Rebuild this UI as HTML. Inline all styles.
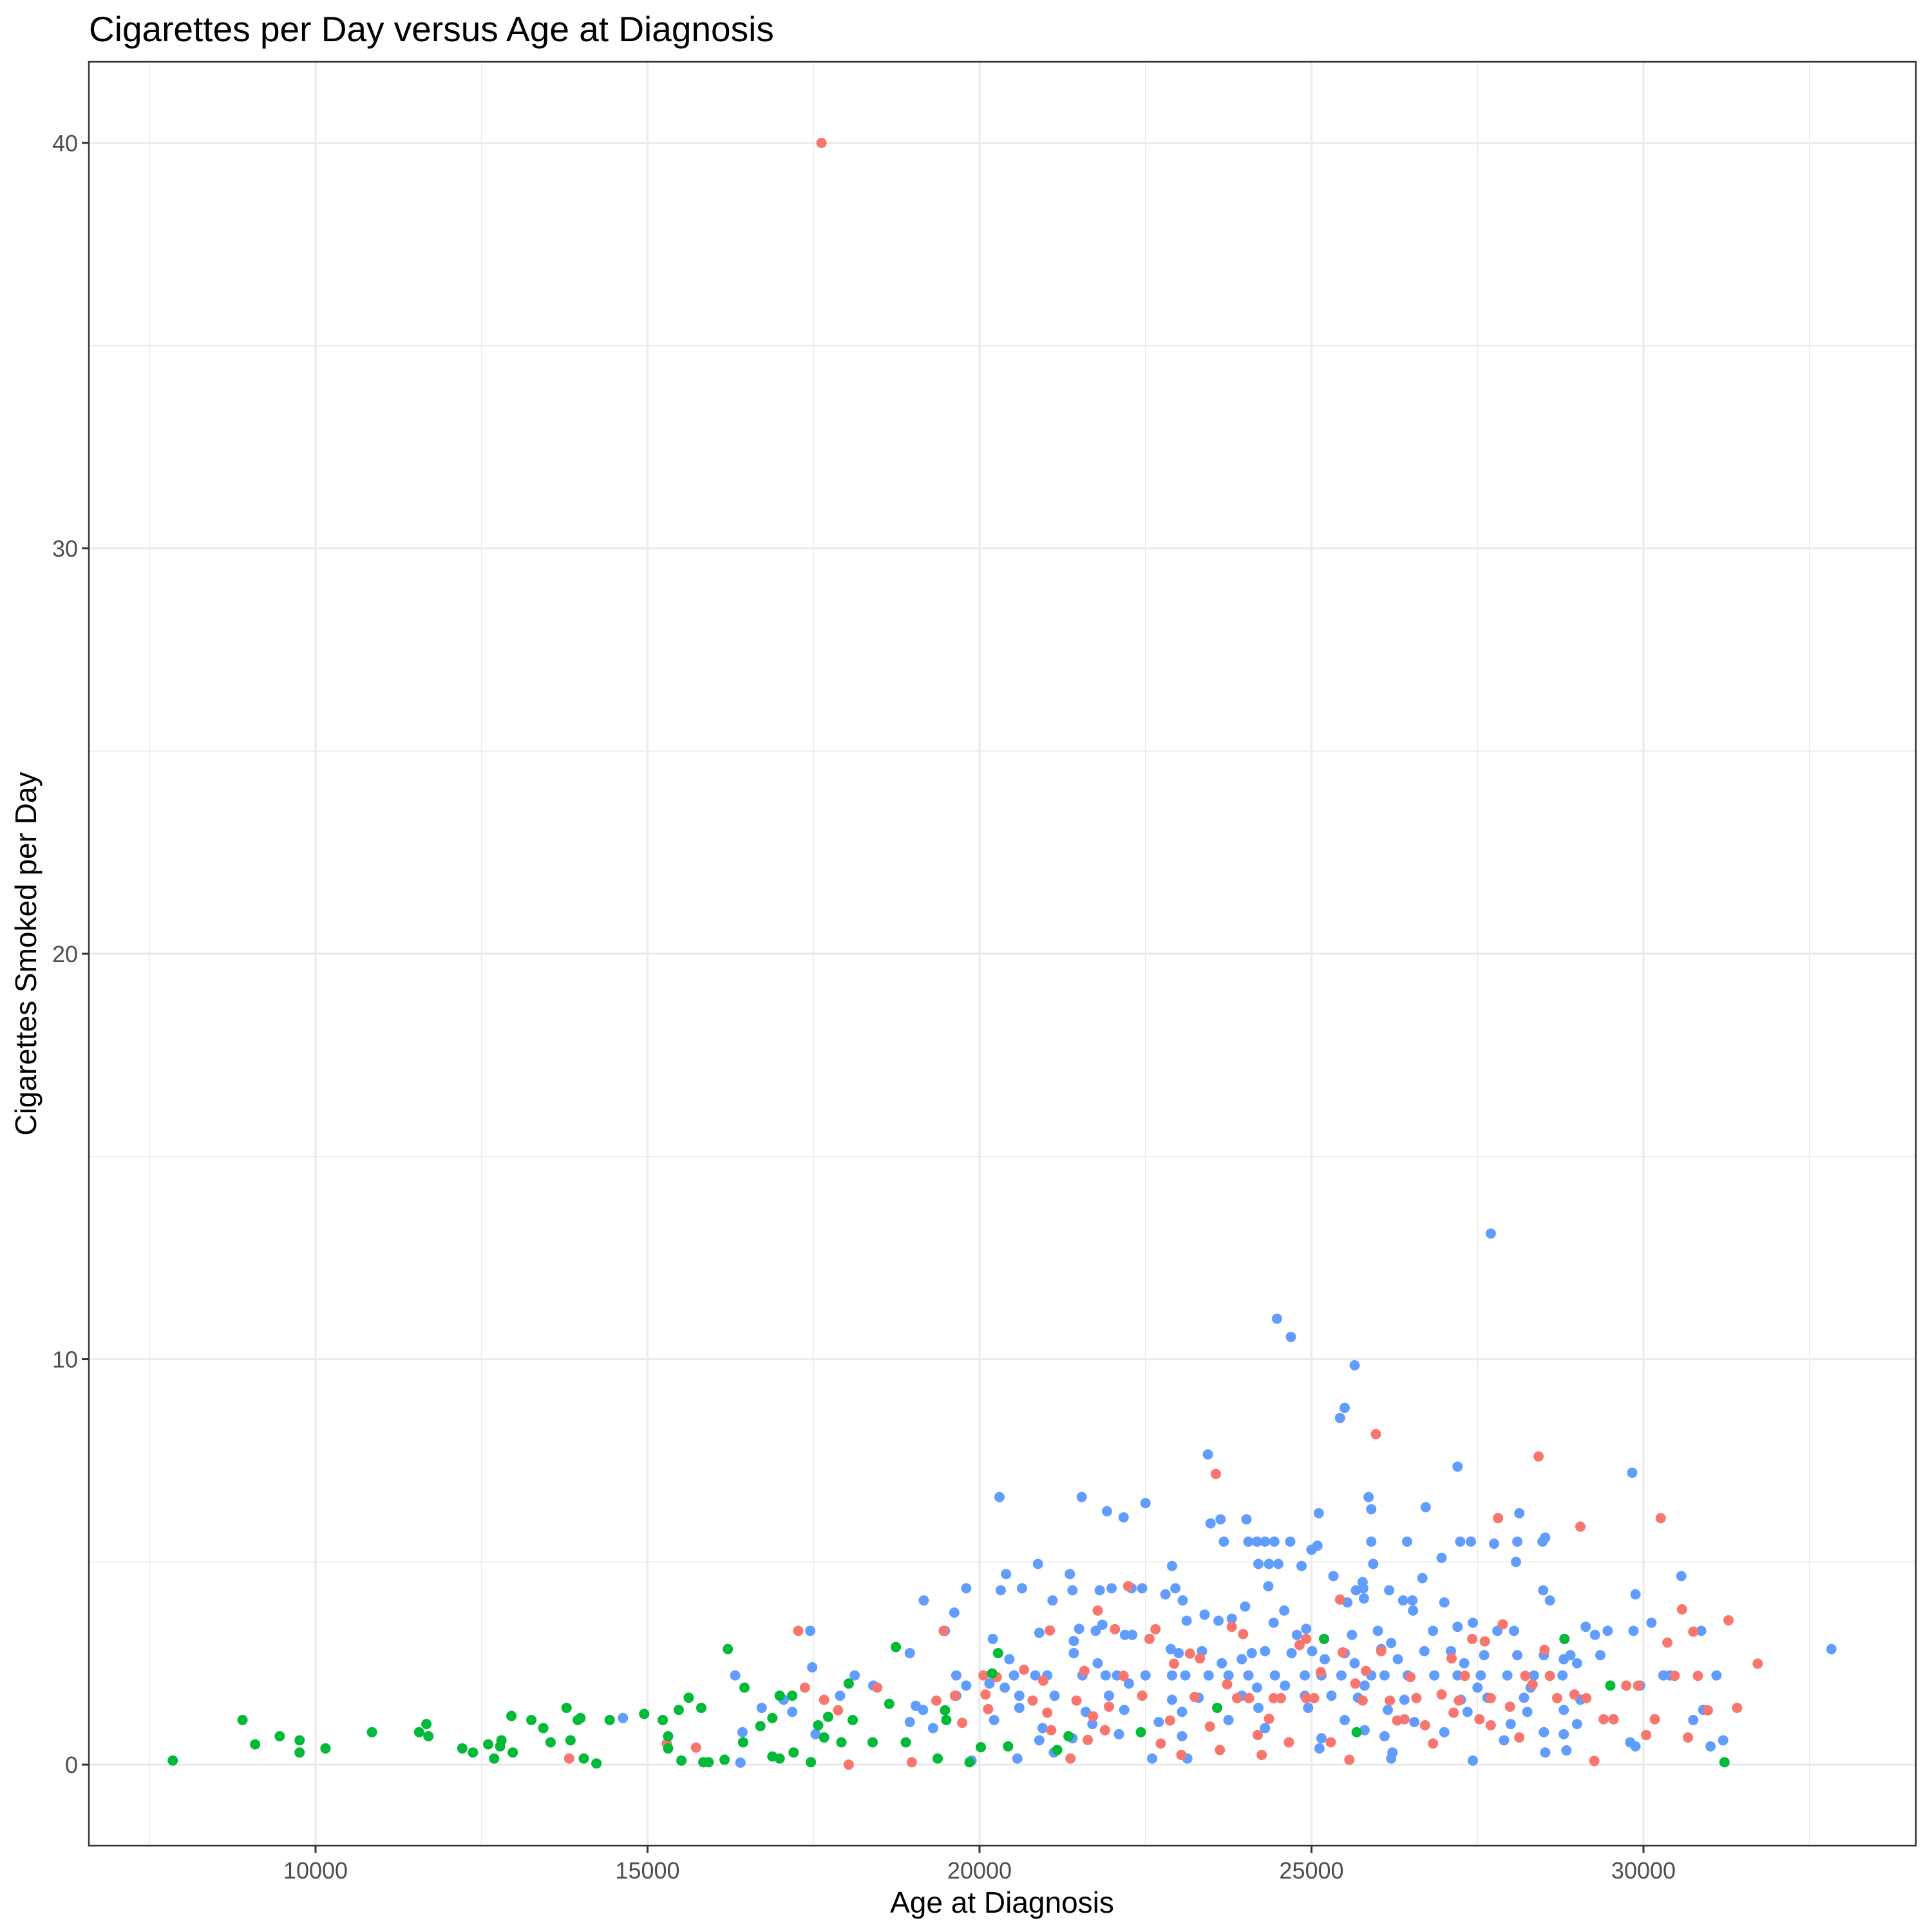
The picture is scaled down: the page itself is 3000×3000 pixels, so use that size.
<!DOCTYPE html>
<html><head><meta charset="utf-8"><style>
html,body{margin:0;padding:0;background:#fff}
svg{display:block;font-family:"Liberation Sans",Arial,sans-serif}
</style></head><body>
<svg id="chart" width="3000" height="3000" viewBox="0 0 3000 3000" xmlns="http://www.w3.org/2000/svg">
<rect width="3000" height="3000" fill="#fff"/>
<text x="138" y="64" font-size="55" fill="#000">Cigarettes per Day versus Age at Diagnosis</text>
<g id="grid"></g>
<g id="pts"></g>
<rect x="138" y="96" width="2837" height="2770" fill="none" stroke="#333" stroke-width="2.5"/>
<g id="axes"></g>
<text x="1556" y="2970" font-size="46" text-anchor="middle" fill="#000">Age at Diagnosis</text>
<text transform="translate(56,1481) rotate(-90)" font-size="46" text-anchor="middle" fill="#000">Cigarettes Smoked per Day</text>
</svg>
<script>
const xTicks=[10000,15000,20000,25000,30000];
const xMinor=[7500,12500,17500,22500,27500,32500];
const yTicks=[0,10,20,30,40];
const yMinor=[5,15,25,35];
const greenX=[7850,8900,9090,9460,9760,9760,10150,10850,11560,11670,11700,12210,12370,12600,12690,12780,12800,12950,12970,13250,13430,13540,13780,13840,13950,13990,14040,14230,14430,14950,15230,15310,15310,15470,15510,15620,15810,15840,15920,16160,16210,16440,16460,16700,16880,16880,16990,16990,17180,17200,17460,17570,17660,17720,17920,18030,18090,18390,18640,18740,18890,19370,19480,19500,19850,20020,20190,20280,20430,21170,21340,22430,23580,25190,25680,28810,29500,31220];
const greenY=[0.1,1.1,0.5,0.7,0.6,0.3,0.4,0.8,0.8,1.0,0.7,0.4,0.3,0.5,0.15,0.45,0.6,1.2,0.3,1.1,0.9,0.55,1.4,0.6,1.1,1.15,0.15,0.03,1.1,1.25,1.1,0.7,0.4,1.35,0.1,1.65,1.4,0.06,0.06,0.12,2.85,0.55,1.9,0.95,0.2,1.15,1.7,0.15,1.7,0.3,0.06,0.97,0.67,1.18,0.55,2.0,1.1,0.55,1.5,2.9,0.55,0.15,1.34,1.1,0.06,0.43,2.25,2.75,0.45,0.36,0.7,0.8,1.4,3.1,0.8,3.1,1.95,0.06];
const redX=[17620,13820,15290,15730,17270,17370,17660,17870,18030,18460,18980,19460,19630,19740,20060,20130,20260,20670,20800,20960,21060,21080,21370,21460,21580,21630,21710,21780,21890,22040,22170,22240,22450,22560,22650,22730,22930,23040,23170,23240,23320,23470,23560,23620,23730,23880,23970,24060,24190,24250,24360,24430,24540,24660,24820,24920,25040,25140,25290,25430,25470,25570,25660,25770,25820,25970,26050,26180,26290,26400,26490,26580,26710,26830,26960,27110,27220,27310,27420,27530,27610,27700,27810,27880,27990,28130,28220,28330,28420,28510,28590,28700,28810,28960,29050,29140,29260,29400,29550,29740,29920,30040,30170,30260,30360,30470,30580,30670,30750,30820,30970,31280,31410,31720,27700,27140,24920,23800,22870,21950,21020,20090,19350];
const redY=[40.0,0.15,0.52,0.42,3.3,1.9,1.6,1.34,0,1.9,0.06,3.3,1.7,1.03,2.2,1.37,2.16,2.34,1.58,2.07,3.31,0.85,0.15,1.58,2.31,0.61,1.19,3.8,0.85,3.34,2.19,4.4,1.7,3.1,3.34,0.52,2.49,0.24,2.74,1.67,2.62,0.94,7.17,0.36,1.98,1.64,3.22,1.64,0.73,0.24,1.13,1.64,1.64,0.55,2.95,1.64,1.64,2.28,0.55,4.07,2.77,0.12,2.0,1.58,2.31,8.15,2.8,1.58,1.09,1.12,2.16,1.64,0.97,0.52,1.73,2.62,1.58,2.19,3.1,1.12,3.04,1.64,6.08,3.46,1.43,0.67,2.19,1.98,7.6,2.83,2.19,1.64,3.1,1.73,5.87,1.64,0.09,1.12,1.12,1.95,1.95,0.73,1.12,6.08,3.01,2.19,3.83,0.67,3.28,2.19,1.34,3.56,1.4,2.49,0.97,1.28,3.1,3.4,1.09,1.43,1.28,1.73,1.58];
const blueX=[24480,24690,25650,25500,25430,27700,27200,29830,23440,20300,21540,22500,21920,22170,23480,23630,24020,26720,25110,25860,25900,28130,
23680,24050,24180,24300,24440,24680,25090,25900,26440,27240,27400,27750,28100,28520,28480,25000,26960,
20880,22900,24200,24360,24500,24850,25930,28080,20400,21360,25330,26670,30570,25770,
19800,20320,20640,21400,21810,21990,22290,22450,22950,24350,25670,25780,26170,28490,22800,
19160,21100,23060,24000,25540,25790,26380,26520,27000,28590,29880,23390,24590,26530,19620,
17450,19480,20900,21500,21750,21850,22190,23120,23600,23800,24430,24780,24920,25610,26000,26830,27200,27430,27800,28050,29130,29460,29850,30120,30870,22300,29270,26200,20200,21420,
18950,22880,23000,23350,24100,24300,24700,25010,25500,26050,26700,27100,27600,28100,28500,28900,29350,32830,21420,20450,23950,25200,26300,28800,
16320,17480,18120,19650,20520,20840,21020,21550,21900,22070,22500,22900,23100,23450,23750,24050,24450,24900,25150,25450,25900,26100,26450,26850,27200,27550,27950,28350,28780,30300,30400,31100,21780,23650,25650,27300,29000,
18400,19800,20150,20380,22250,24180,24600,25800,27500,28300,29950,
16720,17050,17900,19040,19650,20600,21130,21950,22900,23950,24900,25300,26400,27250,27650,28200,29050,23300,25700,
14630,17180,19150,20600,21600,22180,23050,24200,24950,26150,27350,28250,28800,30900,
18950,20220,21700,22700,23750,25500,26550,28000,29000,30750,
16430,17530,19300,20900,21400,22100,23050,24300,25150,26100,27000,27900,28800,29800,31200,20950,25800,28500,
16400,20570,21120,22600,23130,25120,26200,27430,28520,28840,29880,31010,26220,19880];
const blueY=[11.0,10.55,9.85,8.8,8.55,13.1,7.35,7.2,7.65,6.6,6.6,6.45,6.25,6.1,5.95,6.05,6.05,6.35,6.2,6.6,6.3,6.2,
5.5,5.5,5.5,5.5,5.5,5.5,5.4,5.5,5.5,5.5,5.5,5.45,5.5,5.6,5.5,5.3,5.1,
4.95,4.9,4.95,4.95,4.95,4.9,4.95,5.0,4.7,4.7,4.65,4.6,4.65,4.5,
4.35,4.3,4.35,4.3,4.3,4.35,4.35,4.35,4.35,4.4,4.3,4.35,4.3,4.3,4.2,
4.05,4.05,4.05,3.9,4.0,4.1,4.05,4.05,4.0,4.05,4.2,3.7,3.8,3.8,3.75,
3.3,3.3,3.25,3.35,3.3,3.45,3.2,3.55,3.55,3.6,3.5,3.2,3.35,3.2,3.3,3.3,3.4,3.5,3.3,3.3,3.4,3.3,3.3,3.5,3.3,3.2,3.2,3.0,3.1,3.05,
2.75,2.85,2.75,2.8,2.75,2.8,2.75,2.8,2.75,2.85,2.8,2.8,2.7,2.7,2.7,2.7,2.7,2.85,2.75,2.6,2.6,2.6,2.6,2.6,
2.2,2.4,2.2,2.2,2.2,2.2,2.2,2.2,2.2,2.2,2.2,2.2,2.2,2.2,2.2,2.2,2.2,2.2,2.2,2.2,2.2,2.2,2.2,2.2,2.2,2.2,2.2,2.2,2.2,2.2,2.2,2.2,2.5,2.5,2.5,2.5,2.5,
1.95,1.95,2.0,1.9,2.0,1.9,1.95,1.95,1.9,1.9,1.95,
1.4,1.6,1.7,1.45,1.7,1.7,1.7,1.7,1.6,1.7,1.7,1.7,1.6,1.6,1.65,1.65,1.6,1.65,1.65,
1.15,1.3,1.35,1.4,1.3,1.35,1.3,1.4,1.4,1.35,1.3,1.3,1.35,1.35,
1.05,1.1,1.0,1.05,1.1,1.1,1.05,1.0,1.0,1.1,
0.8,0.75,0.9,0.6,0.65,0.75,0.7,0.9,0.65,0.7,0.8,0.6,0.75,0.55,0.6,0.9,0.85,0.8,
0.05,0.15,0.3,0.15,0.15,0.4,0.15,0.1,0.3,0.35,0.45,0.45,0.3,0.1];

const NS='http://www.w3.org/2000/svg';
const PL=138,PR=2975,PT=96,PB=2866;
const X0=6586,X1=34103,Y0=-2.0,Y1=42.0;
function sx(v){return PL+(v-X0)/(X1-X0)*(PR-PL);}
function sy(v){return PB-(v-Y0)/(Y1-Y0)*(PB-PT);}
function mk(tag,attrs,parent){const e=document.createElementNS(NS,tag);for(const k in attrs)e.setAttribute(k,attrs[k]);parent.appendChild(e);return e;}
const grid=document.getElementById('grid'),pts=document.getElementById('pts'),axes=document.getElementById('axes');
xMinor.forEach(v=>{const l=mk('line',{x1:sx(v),x2:sx(v),y1:PT,y2:PB,stroke:'#EBEBEB','stroke-width':1.6},grid);

});
yMinor.forEach(v=>{const l=mk('line',{x1:PL,x2:PR,y1:sy(v),y2:sy(v),stroke:'#EBEBEB','stroke-width':1.6},grid);

});
xTicks.forEach(v=>{const l=mk('line',{x1:sx(v),x2:sx(v),y1:PT,y2:PB,stroke:'#EBEBEB','stroke-width':3.2},grid);


const t=mk('line',{x1:sx(v),x2:sx(v),y1:PB,y2:PB+11,stroke:'#333','stroke-width':3},axes);


const tx=mk('text',{x:sx(v),y:PB+51,'font-size':36,'text-anchor':'middle',fill:'#4D4D4D'},axes);
tx.textContent=v;

});
yTicks.forEach(v=>{const l=mk('line',{x1:PL,x2:PR,y1:sy(v),y2:sy(v),stroke:'#EBEBEB','stroke-width':3.2},grid);


const t=mk('line',{x1:PL-11,x2:PL,y1:sy(v),y2:sy(v),stroke:'#333','stroke-width':3},axes);


const tx=mk('text',{x:PL-17,y:sy(v)+13,'font-size':36,'text-anchor':'end',fill:'#4D4D4D'},axes);
tx.textContent=v;

});
function series(xs,ys,color,name){xs.forEach((x,i)=>{const c=mk('circle',{cx:sx(x),cy:sy(ys[i]),r:8,fill:color},pts);

});}
series(blueX,blueY,'#619CFF','point-blue');
series(redX,redY,'#F8766D','point-red');
series(greenX,greenY,'#00BA38','point-green');
</script>
</body></html>
